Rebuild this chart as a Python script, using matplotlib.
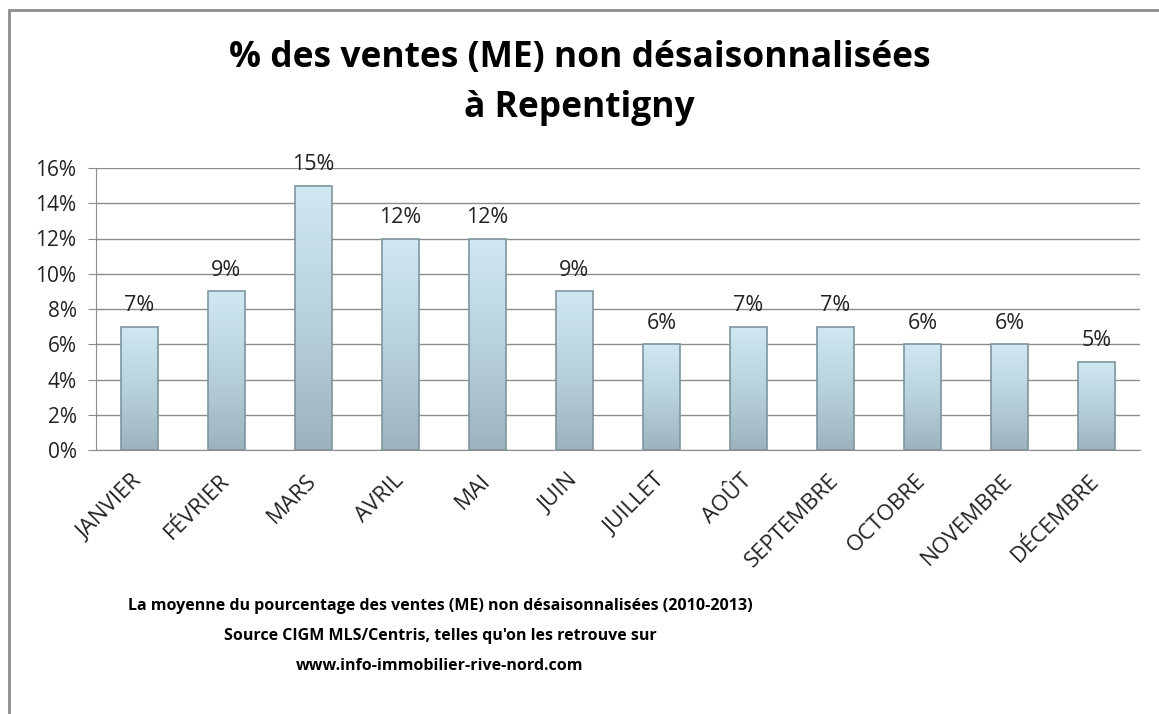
import numpy as np
import matplotlib.pyplot as plt
from matplotlib.patches import Rectangle
from matplotlib.colors import LinearSegmentedColormap

plt.rcParams['font.family'] = ['Open Sans', 'DejaVu Sans']

mois = ['JANVIER', 'FÉVRIER', 'MARS', 'AVRIL', 'MAI', 'JUIN', 'JUILLET',
        'AOÛT', 'SEPTEMBRE', 'OCTOBRE', 'NOVEMBRE', 'DÉCEMBRE']
ventes = [7, 9, 15, 12, 12, 9, 6, 7, 7, 6, 6, 5]
yticks = [0, 2, 4, 6, 8, 10, 12, 14, 16]

titre = '% des ventes (ME) non désaisonnalisées\nà Repentigny'
note = ("La moyenne du pourcentage des ventes (ME) non désaisonnalisées (2010-2013)\n"
        "Source CIGM MLS/Centris, telles qu'on les retrouve sur\n"
        "www.info-immobilier-rive-nord.com")

W, H = 1159, 714
fig = plt.figure(figsize=(W / 100, H / 100), dpi=100)
ax = fig.add_axes([96 / W, 1 - 450 / H, (1140 - 96) / W, (450 - 168) / H])

# cadre du graphique
fig.patches.append(Rectangle((9 / W, -0.1), 1.1, 1 - 10 / H + 0.1, transform=fig.transFigure,
                             fill=False, edgecolor='#8c8c8c', linewidth=2))

x = np.arange(len(mois))
largeur = 0.42
bars = ax.bar(x, ventes, width=largeur, color='none', edgecolor='#7f959e', linewidth=1.2, zorder=3)

# dégradé bleu dans les barres
cmap = LinearSegmentedColormap.from_list('bleu', ['#9cb3bd', '#b8d2dc', '#cfe8f2'])
grad = np.linspace(0, 1, 256).reshape(-1, 1)
for b in bars:
    x0, y0 = b.get_x(), b.get_y()
    im = ax.imshow(grad, cmap=cmap, origin='lower', aspect='auto',
                   extent=[x0, x0 + b.get_width(), y0, y0 + b.get_height()], zorder=2)
    im.set_clip_path(b)
    ax.text(b.get_x() + b.get_width() / 2, b.get_height() + 0.6, f'{b.get_height():.0f}%',
            ha='center', va='bottom', fontsize=15.5, color='#222222', zorder=4)

ax.set_xlim(-0.5, len(mois) - 0.5)
ax.set_ylim(0, 16)
ax.set_yticks(yticks)
ax.set_yticklabels([f'{v}%' for v in yticks], fontsize=15, color='#222222')
ax.set_xticks(x)
ax.set_xticklabels(mois, rotation=45, ha='right', va='center', rotation_mode='anchor',
                   fontsize=16, color='#222222')
ax.tick_params(axis='x', length=0, pad=20)
ax.tick_params(axis='y', length=6, color='#8c8c8c', pad=8)
ax.grid(axis='y', color='#8c8c8c', linewidth=1, zorder=0)
for s in ['top', 'right']:
    ax.spines[s].set_visible(False)
for s in ['left', 'bottom']:
    ax.spines[s].set_color('#8c8c8c')

fig.text(0.5, 1 - 83 / H, titre, ha='center', va='center', fontsize=25.5, fontweight='bold',
         linespacing=1.5)
fig.text(440 / W, 1 - 636 / H, note, ha='center', va='center', fontsize=11.5, fontweight='bold',
         linespacing=2.15)

fig.savefig('out.png', dpi=100)
